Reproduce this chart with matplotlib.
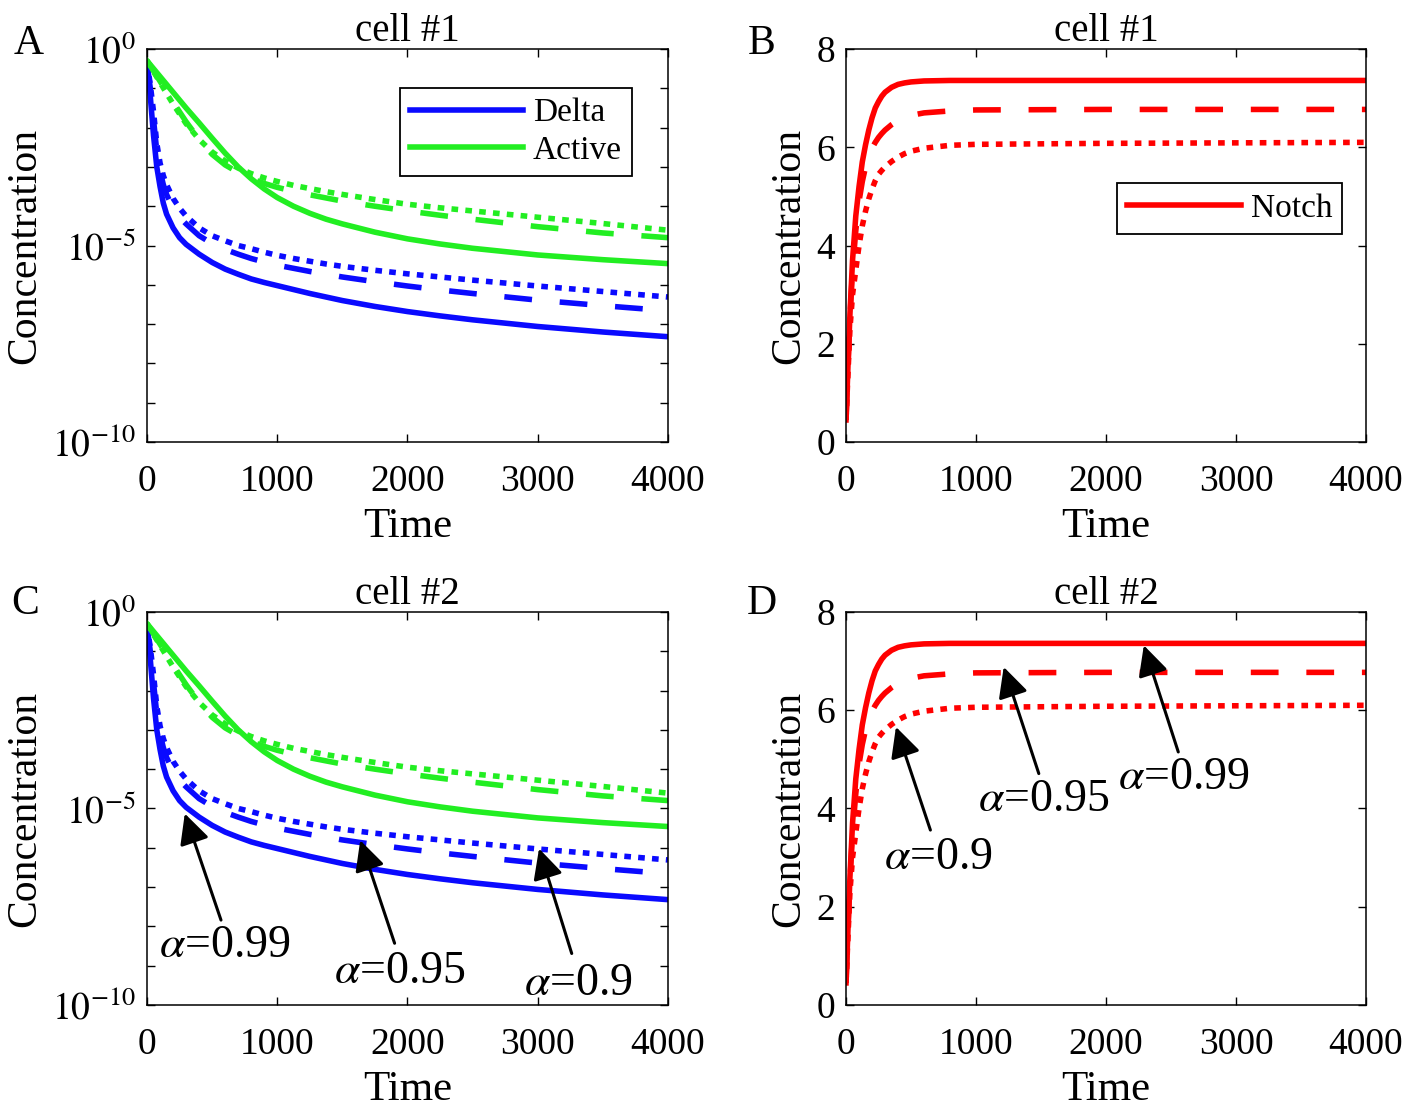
from matplotlib import pyplot as plt
import numpy as np

## Data --------------------------------------------------------------------
# log10 of concentration for Delta (blue) and Active (green), cells #1 and #2
t_log = [0, 25, 50, 75, 100, 125, 150, 200, 250, 300, 400, 500, 600, 700,
         800, 900, 1000, 1125, 1250, 1375, 1500, 1750, 2000, 2250, 2500,
         3000, 3500, 4000]
delta_099 = [-0.35, -1.2, -2.2, -3.0, -3.5, -3.92, -4.2, -4.55, -4.8, -4.97,
             -5.22, -5.43, -5.6, -5.73, -5.85, -5.94, -6.02, -6.12, -6.22,
             -6.31, -6.4, -6.55, -6.68, -6.79, -6.89, -7.06, -7.2, -7.32]
delta_095 = [-0.35, -1.0, -1.8, -2.6, -3.1, -3.45, -3.7, -4.05, -4.28, -4.45,
             -4.75, -4.95, -5.1, -5.22, -5.33, -5.42, -5.5, -5.58, -5.66,
             -5.73, -5.8, -5.92, -6.03, -6.13, -6.22, -6.39, -6.53, -6.66]
delta_090 = [-0.35, -0.9, -1.6, -2.4, -2.9, -3.22, -3.45, -3.8, -4.05, -4.25,
             -4.55, -4.75, -4.88, -5.0, -5.08, -5.17, -5.25, -5.33, -5.4,
             -5.47, -5.53, -5.63, -5.72, -5.8, -5.88, -6.03, -6.17, -6.31]

t_act = [0, 100, 200, 300, 400, 500, 600, 700, 800, 900, 1000, 1125, 1250,
         1375, 1500, 1750, 2000, 2250, 2500, 3000, 3500, 4000]
active_099 = [-0.3, -0.7, -1.1, -1.5, -1.88, -2.27, -2.65, -3.0, -3.3, -3.56,
              -3.78, -4.0, -4.18, -4.33, -4.45, -4.66, -4.83, -4.96, -5.07,
              -5.24, -5.36, -5.46]
active_095 = [-0.3, -0.82, -1.35, -1.85, -2.3, -2.68, -2.95, -3.14, -3.3,
              -3.42, -3.52, -3.62, -3.71, -3.79, -3.87, -4.0, -4.12, -4.23,
              -4.33, -4.52, -4.68, -4.8]
active_090 = [-0.3, -0.85, -1.4, -1.9, -2.3, -2.62, -2.85, -3.03, -3.17,
              -3.28, -3.37, -3.47, -3.55, -3.63, -3.7, -3.83, -3.95, -4.04,
              -4.12, -4.28, -4.44, -4.61]

# Notch (red), linear scale
t_notch = [0, 15, 30, 50, 75, 100, 125, 150, 175, 200, 225, 250, 275, 300,
           350, 400, 450, 500, 600, 800, 1000, 2000, 3000, 4000]
notch_099 = [0.45, 1.55, 2.6, 3.7, 4.6, 5.2, 5.7, 6.05, 6.35, 6.6, 6.8, 6.93,
             7.04, 7.12, 7.22, 7.28, 7.31, 7.33, 7.35, 7.36, 7.36, 7.36,
             7.36, 7.36]
notch_095 = [0.45, 1.55, 2.5, 3.5, 4.3, 4.9, 5.3, 5.6, 5.82, 5.98, 6.1, 6.2,
             6.28, 6.35, 6.46, 6.55, 6.61, 6.65, 6.7, 6.74, 6.76, 6.77,
             6.77, 6.77]
notch_090 = [0.45, 1.4, 2.3, 3.0, 3.5, 4.0, 4.4, 4.7, 4.95, 5.15, 5.32, 5.45,
             5.53, 5.6, 5.71, 5.8, 5.87, 5.92, 5.98, 6.04, 6.06, 6.08,
             6.09, 6.1]

alpha_labels = ["$\\alpha$=0.99", "$\\alpha$=0.95", "$\\alpha$=0.9"]
# panel C: arrow tip (t, log10 y), arrow tail (t, log10 y), label centre
tips_C = [(290, -5.13), (1637, -5.81), (3010, -6.02)]
tails_C = [(568, -7.84), (1901, -8.43), (3261, -8.69)]
text_C = [(600, -8.5), (1940, -9.15), (3310, -9.47)]
# panel D
tips_D = [(2291, 7.32), (1213, 6.88), (384, 5.66)]
tails_D = [(2556, 5.15), (1483, 4.71), (649, 3.56)]
text_D = [(2600, 4.62), (1520, 4.17), (707, 3.0)]

## Style -------------------------------------------------------------------
plt.rc("font", family="Liberation Serif", size=27)
plt.rc("mathtext", fontset="stix")

blue = "#0a0aff"
green = "#22ee22"
red = "#ff0000"
lw = 4
dashed = (0, (5, 5))
dotted = (0, (1.2, 1.3))

fig = plt.figure(figsize=(14.11, 11.09), dpi=100)
axA = fig.add_axes([0.1042, 0.6014, 0.3692, 0.3544])
axB = fig.add_axes([0.5996, 0.6014, 0.3685, 0.3544])
axC = fig.add_axes([0.1042, 0.0938, 0.3692, 0.3544])
axD = fig.add_axes([0.5996, 0.0938, 0.3685, 0.3544])


def style_axis(ax, title):
    ax.set_xlim(0, 4000)
    ax.set_xticks([0, 1000, 2000, 3000, 4000])
    ax.tick_params(direction="in", length=6, width=1, top=True, right=True,
                   labelsize=27)
    ax.tick_params(axis="x", pad=16)
    ax.tick_params(axis="y", pad=8)
    for s in ax.spines.values():
        s.set_linewidth(1.1)
    ax.set_title(title, fontsize=28, pad=6)
    ax.set_xlabel("Time", fontsize=31, labelpad=6)
    ax.set_ylabel("Concentration", fontsize=30, labelpad=6)


def log_panel(ax, title):
    for t, y099, y095, y090, c, name in [
        (t_log, delta_099, delta_095, delta_090, blue, "Delta"),
        (t_act, active_099, active_095, active_090, green, "Active"),
    ]:
        ax.plot(t, 10.0 ** np.array(y099), color=c, lw=lw, label=name)
        ax.plot(t, 10.0 ** np.array(y095), color=c, lw=lw, ls=dashed,
                dash_capstyle="butt")
        ax.plot(t, 10.0 ** np.array(y090), color=c, lw=lw, ls=dotted,
                dash_capstyle="butt")
    ax.set_yscale("log")
    ax.set_ylim(1e-10, 1)
    style_axis(ax, title)
    ax.set_yticks([10.0 ** -k for k in range(11)])
    ax.set_yticklabels(["$10^{%d}$" % -k if k % 5 == 0 else "" for k in range(11)])
    ax.minorticks_off()


def notch_panel(ax, title):
    ax.plot(t_notch, notch_099, color=red, lw=lw, label="Notch")
    ax.plot(t_notch, notch_095, color=red, lw=lw, ls=dashed, dash_capstyle="butt")
    ax.plot(t_notch, notch_090, color=red, lw=lw, ls=dotted, dash_capstyle="butt")
    ax.set_ylim(0, 8)
    ax.set_yticks([0, 2, 4, 6, 8])
    style_axis(ax, title)


log_panel(axA, "cell #1")
notch_panel(axB, "cell #1")
log_panel(axC, "cell #2")
notch_panel(axD, "cell #2")

leg_kw = dict(fontsize=24, frameon=True, fancybox=False, edgecolor="black",
              framealpha=1, handlelength=3.4, borderpad=0.3, labelspacing=0.2,
              handletextpad=0.3, borderaxespad=0)
legA = axA.legend(loc="upper right", bbox_to_anchor=(0.931, 0.901), **leg_kw)
legB = axB.legend(loc="upper right", bbox_to_anchor=(0.954, 0.659), **leg_kw)
for leg in (legA, legB):
    leg.get_frame().set_linewidth(1.3)

arrow_kw = dict(arrowstyle="-|>", color="black", lw=2.2, mutation_scale=46,
                shrinkA=0, shrinkB=0)
for tip, tail, pos, lab in zip(tips_C, tails_C, text_C, alpha_labels):
    axC.annotate("", xy=(tip[0], 10.0 ** tip[1]),
                 xytext=(tail[0], 10.0 ** tail[1]), arrowprops=arrow_kw)
    axC.text(pos[0], 10.0 ** pos[1], lab, fontsize=33, ha="center", va="center")
for tip, tail, pos, lab in zip(tips_D, tails_D, text_D, alpha_labels):
    axD.annotate("", xy=tip, xytext=tail, arrowprops=arrow_kw)
    axD.text(pos[0], pos[1], lab, fontsize=33, ha="center", va="center")

for letter, x, y in [("A", 0.02, 0.961), ("B", 0.54, 0.961),
                     ("C", 0.018, 0.456), ("D", 0.54, 0.456)]:
    fig.text(x, y, letter, fontsize=30, ha="center", va="center")

fig.savefig("out.png", dpi=100)
